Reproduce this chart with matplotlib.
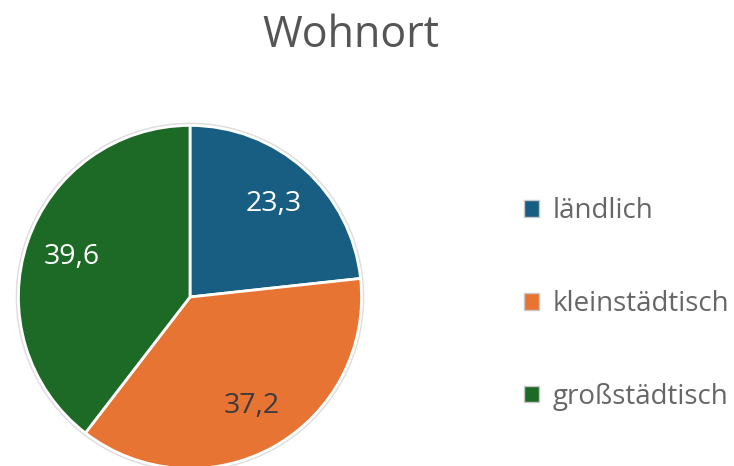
import matplotlib.pyplot as plt
from matplotlib.patches import Patch, Circle

# Daten
kategorien = ["ländlich", "kleinstädtisch", "großstädtisch"]
werte = [23.3, 37.2, 39.6]
farben = ["#175e82", "#e87434", "#1c6a25"]
label_farben = ["white", "#3c3c3c", "white"]

plt.rcParams['font.family'] = ['Open Sans', 'DejaVu Sans']

fig = plt.figure(figsize=(7.34, 4.66), dpi=100)

# Kreis: Mittelpunkt (190, 297) px von oben, Radius ~175 px
W, H = 734, 466
cx, cy, r = 190, H - 297, 175
ax = fig.add_axes([(cx - r) / W, (cy - r) / H, 2 * r / W, 2 * r / H])

wedges, texts = ax.pie(
    werte,
    colors=farben,
    startangle=90,
    counterclock=False,
    radius=1,
    labels=[f"{v:.1f}".replace(".", ",") for v in werte],
    labeldistance=0.73,
    wedgeprops=dict(edgecolor='white', linewidth=2),
    textprops=dict(fontsize=20.5),
)
for t, c in zip(texts, label_farben):
    t.set_color(c)
    t.set_ha('center')
    t.set_va('center')

# feiner grauer Rand
ax.add_patch(Circle((0, 0), 1.012, fill=False, edgecolor='#dddddd', linewidth=1))
ax.set_xlim(-1.02, 1.02)
ax.set_ylim(-1.02, 1.02)
ax.set_aspect('equal')
ax.axis('off')

fig.text(351 / W, 1 - 36 / H, "Wohnort", ha='center', va='center',
         fontsize=31, color='#555555')

handles = [Patch(facecolor=c, edgecolor='#c8c8c8', linewidth=1) for c in farben]
leg = fig.legend(handles, kategorien, loc='center left',
                 bbox_to_anchor=(524 / W, 1 - 304 / H),
                 frameon=False, fontsize=20, labelcolor='#666666',
                 borderpad=0, borderaxespad=0,
                 handlelength=0.55, handleheight=0.55, handletextpad=0.47,
                 labelspacing=2.33)

fig.savefig("out.png", dpi=100)
